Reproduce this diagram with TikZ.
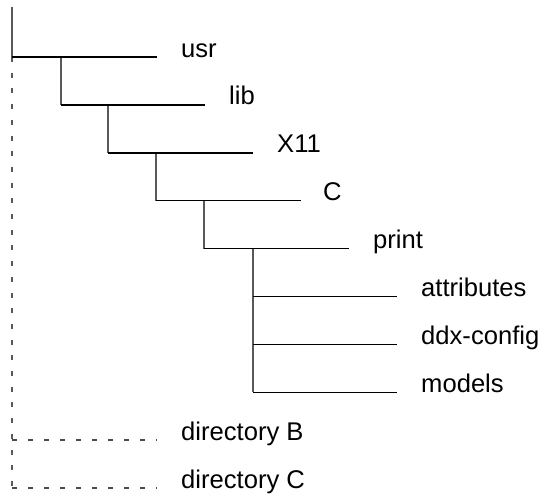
\documentclass[tikz,border=0pt]{standalone}
\usepackage{fontspec}
\setmainfont{Liberation Sans}
\begin{document}
\begin{tikzpicture}[x=1pt,y=-1pt,
  lbl/.style={anchor=base west,inner sep=0pt,font=\fontsize{25.6}{30}\selectfont},
  hline/.style={line width=1.4pt,black},
  vline/.style={line width=2pt,black!65},
  dline/.style={line width=1.6pt,black!70,dash pattern=on 5pt off 11pt},
  vdline/.style={line width=2pt,black!65,dash pattern=on 5pt off 10.7pt}]
\useasboundingbox (0,0) rectangle (545,495);
% rows
\def\ya{57}\def\yb{104.9}\def\yc{152.8}\def\yd{200.7}\def\ye{248.6}
\def\yf{296.5}\def\yg{344.4}\def\yh{392.3}\def\yi{440.2}\def\yj{488.1}
% coordinates
\coordinate (top) at (12,7);
\coordinate (r0) at (12,\ya);
\coordinate (r0e) at (157,\ya);
\coordinate (r1s) at (61,\ya);  \coordinate (r1) at (61,\yb);  \coordinate (r1e) at (205,\yb);
\coordinate (r2s) at (108,\yb); \coordinate (r2) at (108,\yc); \coordinate (r2e) at (253,\yc);
\coordinate (r3s) at (156,\yc); \coordinate (r3) at (156,\yd); \coordinate (r3e) at (301,\yd);
\coordinate (r4s) at (204,\yd); \coordinate (r4) at (204,\ye); \coordinate (r4e) at (349,\ye);
\coordinate (r5s) at (253,\ye); \coordinate (r5) at (253,\yf); \coordinate (r5e) at (397,\yf);
\coordinate (r6) at (253,\yg); \coordinate (r6e) at (397,\yg);
\coordinate (r7) at (253,\yh); \coordinate (r7e) at (397,\yh);
\coordinate (r8) at (12,\yi); \coordinate (r8e) at (157,\yi);
\coordinate (r9) at (12,\yj); \coordinate (r9e) at (157,\yj);
% labels
\node[lbl] (usr) at (181,\ya) {usr};
\node[lbl] (lib) at (229,\yb) {lib};
\node[lbl] (x11) at (277,\yc) {X11};
\node[lbl] (c) at (323,\yd) {C};
\node[lbl] (print) at (373,\ye) {print};
\node[lbl] (attr) at (421,\yf) {attributes};
\node[lbl] (ddx) at (421,\yg) {ddx-config};
\node[lbl] (models) at (421,\yh) {models};
\node[lbl] (dirb) at (181,\yi) {directory B};
\node[lbl] (dirc) at (181,\yj) {directory C};
% verticals
\draw[vline] (top) -- (r0);
\draw[vdline] (r0) -- (r9);
\draw[vline] (r1s) -- (r1);
\draw[vline] (r2s) -- (r2);
\draw[vline] (r3s) -- (r3);
\draw[vline] (r4s) -- (r4);
\draw[vline] (r5s) -- (r7);
% horizontals
\draw[hline] (r0) -- (r0e);
\draw[hline] (r1) -- (r1e);
\draw[hline] (r2) -- (r2e);
\draw[hline] (r3) -- (r3e);
\draw[hline] (r4) -- (r4e);
\draw[hline] (r5) -- (r5e);
\draw[hline] (r6) -- (r6e);
\draw[hline] (r7) -- (r7e);
\draw[dline] (r8) -- (r8e);
\draw[dline] (r9) -- (r9e);
\end{tikzpicture}
\end{document}
